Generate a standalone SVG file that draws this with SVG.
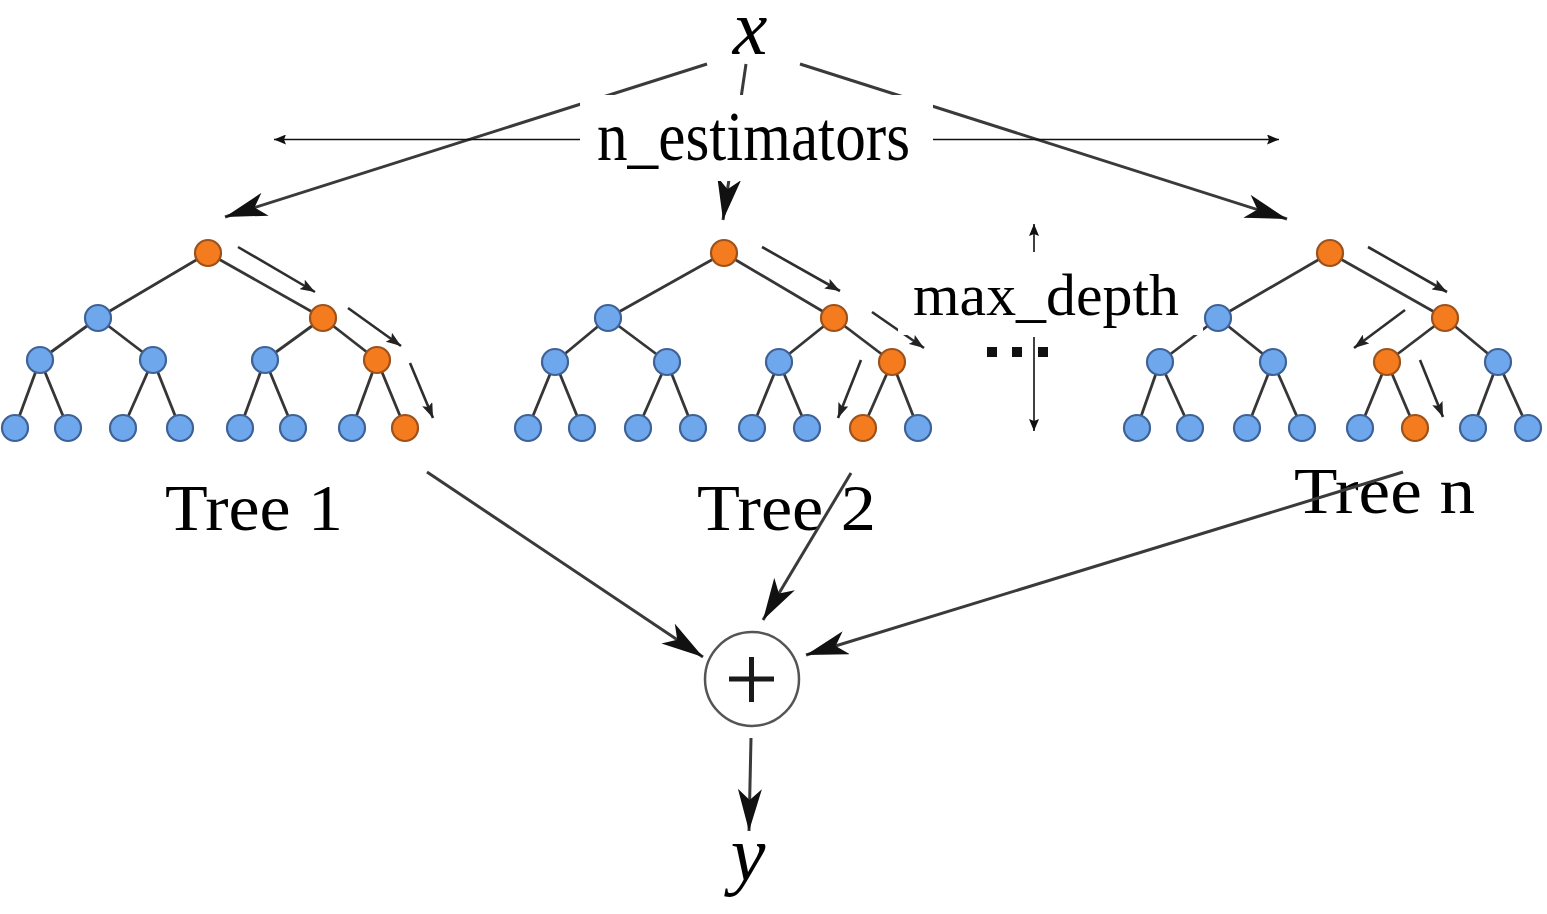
<svg xmlns="http://www.w3.org/2000/svg" width="1547" height="914" viewBox="0 0 1547 914">
<defs>
<style>
.edge{stroke:#363636;stroke-width:2.8;fill:none}
.b{fill:#6ea7ec;stroke:#3f6296;stroke-width:2.2}
.o{fill:#f47b1e;stroke:#9c521c;stroke-width:2.2}
.tarrow{stroke:#2e2e2e;stroke-width:2.6;fill:none;marker-end:url(#small)}
.conn{stroke:#3a3a3a;stroke-width:3;fill:none;marker-end:url(#big)}
.dim{stroke:#111;stroke-width:1.6;fill:none}
.lbl{font-family:"Liberation Serif","DejaVu Serif",serif;fill:#000}
</style>
<marker id="big" markerUnits="userSpaceOnUse" markerWidth="42" markerHeight="24" viewBox="0 0 42 24" refX="42" refY="12" orient="auto">
<path d="M0,0 L42,12 L0,24 L11,12 Z" fill="#111"/>
</marker>
<marker id="small" markerUnits="userSpaceOnUse" markerWidth="15" markerHeight="11" viewBox="0 0 15 11" refX="15" refY="5.5" orient="auto">
<path d="M0,0 L15,5.5 L0,11 L3,5.5 Z" fill="#222"/>
</marker>
<marker id="thin" markerUnits="userSpaceOnUse" markerWidth="12" markerHeight="10" viewBox="0 0 12 10" refX="12" refY="5" orient="auto">
<path d="M0,0 L12,5 L0,10 L2,5 Z" fill="#111"/>
</marker>
</defs>
<rect width="1547" height="914" fill="#fff"/>

<g id="tree1">
<g class="edgeset">
<line class="edge" x1="208" y1="253" x2="98" y2="318"/>
<line class="edge" x1="208" y1="253" x2="323" y2="318"/>
<line class="edge" x1="98" y1="318" x2="40" y2="360"/>
<line class="edge" x1="98" y1="318" x2="153" y2="360"/>
<line class="edge" x1="323" y1="318" x2="265" y2="360"/>
<line class="edge" x1="323" y1="318" x2="377" y2="360"/>
<line class="edge" x1="40" y1="360" x2="15" y2="428"/>
<line class="edge" x1="40" y1="360" x2="68" y2="428"/>
<line class="edge" x1="153" y1="360" x2="123" y2="428"/>
<line class="edge" x1="153" y1="360" x2="180" y2="428"/>
<line class="edge" x1="265" y1="360" x2="240" y2="428"/>
<line class="edge" x1="265" y1="360" x2="293" y2="428"/>
<line class="edge" x1="377" y1="360" x2="352" y2="428"/>
<line class="edge" x1="377" y1="360" x2="405" y2="428"/>
</g>
<circle class="o" cx="208" cy="253" r="13"/>
<circle class="b" cx="98" cy="318" r="13"/>
<circle class="o" cx="323" cy="318" r="13"/>
<circle class="b" cx="40" cy="360" r="13"/>
<circle class="b" cx="153" cy="360" r="13"/>
<circle class="b" cx="265" cy="360" r="13"/>
<circle class="o" cx="377" cy="360" r="13"/>
<circle class="b" cx="15" cy="428" r="13"/>
<circle class="b" cx="68" cy="428" r="13"/>
<circle class="b" cx="123" cy="428" r="13"/>
<circle class="b" cx="180" cy="428" r="13"/>
<circle class="b" cx="240" cy="428" r="13"/>
<circle class="b" cx="293" cy="428" r="13"/>
<circle class="b" cx="352" cy="428" r="13"/>
<circle class="o" cx="405" cy="428" r="13"/>
<line class="tarrow" x1="238" y1="247" x2="315" y2="292"/>
<line class="tarrow" x1="348" y1="308" x2="401" y2="346"/>
<line class="tarrow" x1="410" y1="363" x2="433" y2="418"/>
<text class="lbl" x="165" y="530" font-size="66" textLength="178" lengthAdjust="spacingAndGlyphs">Tree 1</text>
</g>

<g id="tree2">
<line class="edge" x1="724" y1="253" x2="608" y2="318"/>
<line class="edge" x1="724" y1="253" x2="834" y2="318"/>
<line class="edge" x1="608" y1="318" x2="555" y2="362"/>
<line class="edge" x1="608" y1="318" x2="667" y2="362"/>
<line class="edge" x1="834" y1="318" x2="779" y2="362"/>
<line class="edge" x1="834" y1="318" x2="892" y2="362"/>
<line class="edge" x1="555" y1="362" x2="528" y2="428"/>
<line class="edge" x1="555" y1="362" x2="582" y2="428"/>
<line class="edge" x1="667" y1="362" x2="638" y2="428"/>
<line class="edge" x1="667" y1="362" x2="693" y2="428"/>
<line class="edge" x1="779" y1="362" x2="752" y2="428"/>
<line class="edge" x1="779" y1="362" x2="807" y2="428"/>
<line class="edge" x1="892" y1="362" x2="863" y2="428"/>
<line class="edge" x1="892" y1="362" x2="918" y2="428"/>
<circle class="o" cx="724" cy="253" r="13"/>
<circle class="b" cx="608" cy="318" r="13"/>
<circle class="o" cx="834" cy="318" r="13"/>
<circle class="b" cx="555" cy="362" r="13"/>
<circle class="b" cx="667" cy="362" r="13"/>
<circle class="b" cx="779" cy="362" r="13"/>
<circle class="o" cx="892" cy="362" r="13"/>
<circle class="b" cx="528" cy="428" r="13"/>
<circle class="b" cx="582" cy="428" r="13"/>
<circle class="b" cx="638" cy="428" r="13"/>
<circle class="b" cx="693" cy="428" r="13"/>
<circle class="b" cx="752" cy="428" r="13"/>
<circle class="b" cx="807" cy="428" r="13"/>
<circle class="o" cx="863" cy="428" r="13"/>
<circle class="b" cx="918" cy="428" r="13"/>
<line class="tarrow" x1="762" y1="247" x2="840" y2="291"/>
<line class="tarrow" x1="872" y1="312" x2="924" y2="348"/>
<line class="tarrow" x1="861" y1="360" x2="838" y2="418"/>
<text class="lbl" x="697" y="530" font-size="66" textLength="179" lengthAdjust="spacingAndGlyphs">Tree 2</text>
</g>

<g id="treen">
<line class="edge" x1="1330" y1="253" x2="1218" y2="318"/>
<line class="edge" x1="1330" y1="253" x2="1445" y2="318"/>
<line class="edge" x1="1218" y1="318" x2="1160" y2="362"/>
<line class="edge" x1="1218" y1="318" x2="1273" y2="362"/>
<line class="edge" x1="1445" y1="318" x2="1387" y2="362"/>
<line class="edge" x1="1445" y1="318" x2="1498" y2="362"/>
<line class="edge" x1="1160" y1="362" x2="1137" y2="428"/>
<line class="edge" x1="1160" y1="362" x2="1190" y2="428"/>
<line class="edge" x1="1273" y1="362" x2="1247" y2="428"/>
<line class="edge" x1="1273" y1="362" x2="1302" y2="428"/>
<line class="edge" x1="1387" y1="362" x2="1360" y2="428"/>
<line class="edge" x1="1387" y1="362" x2="1415" y2="428"/>
<line class="edge" x1="1498" y1="362" x2="1473" y2="428"/>
<line class="edge" x1="1498" y1="362" x2="1528" y2="428"/>
<circle class="o" cx="1330" cy="253" r="13"/>
<circle class="b" cx="1218" cy="318" r="13"/>
<circle class="o" cx="1445" cy="318" r="13"/>
<circle class="b" cx="1160" cy="362" r="13"/>
<circle class="b" cx="1273" cy="362" r="13"/>
<circle class="o" cx="1387" cy="362" r="13"/>
<circle class="b" cx="1498" cy="362" r="13"/>
<circle class="b" cx="1137" cy="428" r="13"/>
<circle class="b" cx="1190" cy="428" r="13"/>
<circle class="b" cx="1247" cy="428" r="13"/>
<circle class="b" cx="1302" cy="428" r="13"/>
<circle class="b" cx="1360" cy="428" r="13"/>
<circle class="o" cx="1415" cy="428" r="13"/>
<circle class="b" cx="1473" cy="428" r="13"/>
<circle class="b" cx="1528" cy="428" r="13"/>
<line class="tarrow" x1="1368" y1="247" x2="1447" y2="292"/>
<line class="tarrow" x1="1405" y1="310" x2="1354" y2="348"/>
<line class="tarrow" x1="1420" y1="360" x2="1443" y2="417"/>
<text class="lbl" x="1294" y="513" font-size="66" textLength="181" lengthAdjust="spacingAndGlyphs">Tree n</text>
</g>

<g id="x">
<text class="lbl" x="750" y="54" font-size="78" font-style="italic" text-anchor="middle">x</text>
</g>

<g id="sum">
<circle cx="752" cy="679" r="47" fill="#fff" stroke="#555" stroke-width="2.5"/>
<path d="M729,679 H774 M751.5,657 V702" stroke="#1a1a1a" stroke-width="5" fill="none"/>
</g>

<g id="y">
<text class="lbl" x="748" y="880" font-size="78" font-style="italic" text-anchor="middle">y</text>
</g>

<g id="connectors">
<line class="conn" x1="707" y1="64" x2="225" y2="217"/>
<line class="conn" x1="746" y1="64" x2="723" y2="220"/>
<line class="conn" x1="800" y1="64" x2="1287" y2="219"/>
<line class="conn" x1="427" y1="472" x2="703" y2="657"/>
<line class="conn" x1="851" y1="473" x2="763" y2="620"/>
<line class="conn" x1="1403" y1="472" x2="806" y2="655"/>
<line class="conn" x1="751" y1="738" x2="749" y2="831"/>
</g>

<g id="n_estimators">
<rect x="580" y="95" width="353" height="86" fill="#fff"/>
<line class="dim" x1="580" y1="139.5" x2="274" y2="139.5" marker-end="url(#thin)"/>
<line class="dim" x1="933" y1="139.5" x2="1279" y2="139.5" marker-end="url(#thin)"/>
<text class="lbl" x="597" y="160" font-size="70" textLength="313" lengthAdjust="spacingAndGlyphs">n_estimators</text>
</g>

<g id="max_depth">
<rect x="898" y="265" width="305" height="70" fill="#fff"/>
<line class="dim" x1="1034" y1="252" x2="1034" y2="224" marker-end="url(#thin)"/>
<line class="dim" x1="1034" y1="337" x2="1034" y2="431" marker-end="url(#thin)"/>
<text class="lbl" x="913" y="315" font-size="59" textLength="266" lengthAdjust="spacingAndGlyphs">max_depth</text>
</g>

<g id="ellipsis">
<rect x="987" y="347" width="10" height="10" fill="#111"/>
<rect x="1012" y="347" width="10" height="10" fill="#111"/>
<rect x="1038" y="347" width="10" height="10" fill="#111"/>
</g>
</svg>
